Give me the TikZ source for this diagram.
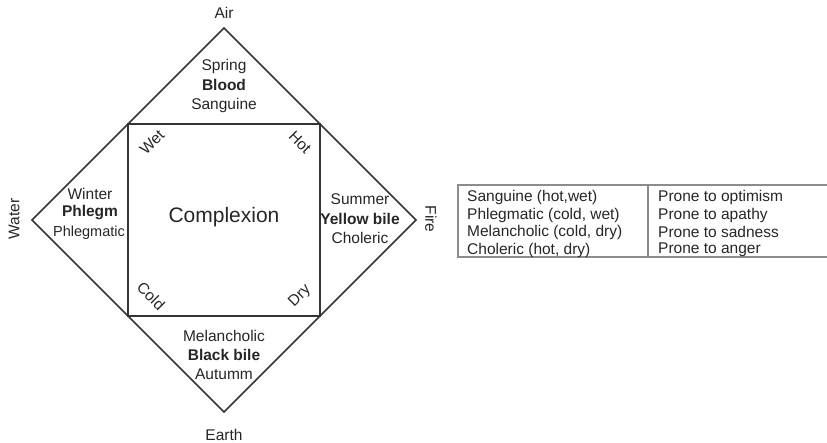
\documentclass[tikz,border=0pt]{standalone}
\usepackage{fontspec}
\setmainfont{Liberation Sans}
\begin{document}
\begin{tikzpicture}[x=1pt,y=-1pt,
  lbl/.style={inner sep=0pt,font=\fontsize{15.5}{18}\selectfont,text=black!85},
  bl/.style={lbl,font=\fontsize{15.5}{18}\selectfont\bfseries},
  tb/.style={inner sep=0pt,anchor=west,font=\fontsize{15.5}{18}\selectfont,text=black!85},
  edge/.style={draw=black!80,line width=1.5pt,line join=miter},
  tline/.style={draw=black!45,line width=1.6pt}]
\useasboundingbox (0,0) rectangle (827,443);
% diamond
\coordinate (T) at (224,28);
\coordinate (L) at (32,220);
\coordinate (R) at (416,220);
\coordinate (B) at (224,412);
\coordinate (s1) at (128,124);
\coordinate (s2) at (320,124);
\coordinate (s3) at (320,316);
\coordinate (s4) at (128,316);
\draw[edge] (T) -- (R) -- (B) -- (L) -- cycle;
\draw[edge] (s1) -- (s2) -- (s3) -- (s4) -- cycle;
% outer labels
\node[lbl] (air) at (224,13) {Air};
\node[lbl] (earth) at (224,435) {Earth};
\node[lbl,rotate=90] (water) at (14,219) {Water};
\node[lbl,rotate=-90] (fire) at (431,219) {Fire};
% top
\node[lbl] (spring) at (224,66) {Spring};
\node[bl] (blood) at (224,85) {Blood};
\node[lbl] (sang) at (224,105) {Sanguine};
% left
\node[lbl] (winter) at (90,194) {Winter};
\node[bl] (phlegm) at (90,213) {Phlegm};
\node[lbl,font=\fontsize{14.5}{18}\selectfont] (phlegmatic) at (89,233) {Phlegmatic};
% right
\node[lbl] (summer) at (360,199) {Summer};
\node[bl] (yb) at (360,219) {Yellow bile};
\node[lbl] (chol) at (360,238) {Choleric};
% bottom
\node[lbl] (mel) at (224,336) {Melancholic};
\node[bl] (bb) at (224,355) {Black bile};
\node[lbl] (aut) at (224,374) {Autumm};
% centre
\node[lbl,font=\fontsize{21}{25}\selectfont] (cx) at (224,217) {Complexion};
\node[lbl,rotate=45] (wet) at (152,142) {Wet};
\node[lbl,rotate=-45] (hot) at (300,142) {Hot};
\node[lbl,rotate=-45] (cold) at (151,296) {Cold};
\node[lbl,rotate=45] (dry) at (300,296) {Dry};
% table
\draw[tline] (827,185) -- (458,185) -- (458,257) -- (827,257);
\draw[tline] (648,185) -- (648,257);
\node[tb] (a1) at (467,197) {Sanguine (hot,wet)};
\node[tb] (a2) at (467,215) {Phlegmatic (cold, wet)};
\node[tb] (a3) at (467,232) {Melancholic (cold, dry)};
\node[tb] (a4) at (467,250) {Choleric (hot, dry)};
\node[tb] (b1) at (658,197) {Prone to optimism};
\node[tb] (b2) at (658,215) {Prone to apathy};
\node[tb] (b3) at (658,232) {Prone to sadness};
\node[tb] (b4) at (658,250) {Prone to anger};
\end{tikzpicture}
\end{document}
